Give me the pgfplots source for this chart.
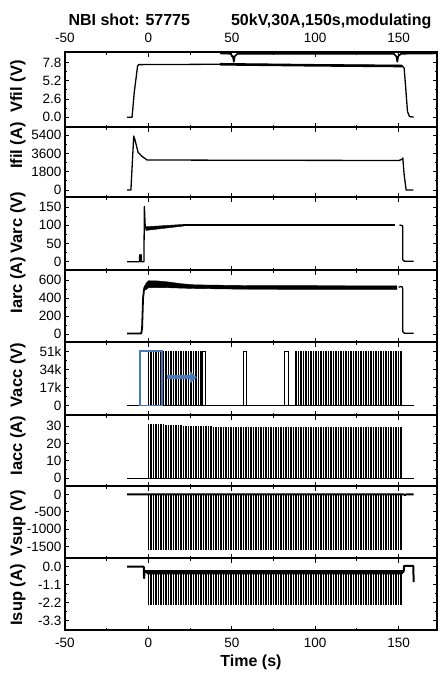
\documentclass[border=0pt]{standalone}
\usepackage{fontspec}
\setmainfont{Liberation Sans}
\usepackage{pgfplots}
\usepackage{pgfplotstable}
\pgfplotsset{compat=1.18}
\usetikzlibrary{arrows.meta}
\definecolor{markblue}{RGB}{72,122,192}

% pulse train (one row per modulation pulse)
\pgfplotstableread{
t iacc vsup isup vacc
0 31.2 -1600 -0.35 51.5
1.5 31.2 -1600 -0.35 51.5
3 31.1 -1600 -0.35 51.5
4.5 31.1 -1600 -0.35 51.5
6 31.0 -1600 -0.35 51.5
7.5 31.0 -1600 -0.35 51.5
9 30.9 -1600 -0.35 51.5
10.5 30.8 -1600 -0.35 51.5
12 30.7 -1600 -0.35 51.5
13.5 30.6 -1600 -0.35 51.5
15 30.5 -1600 -0.35 51.5
16.5 30.4 -1600 -0.35 51.5
18 30.4 -1600 -0.35 51.5
19.5 30.3 -1600 -0.35 51.5
21 30.2 -1600 -0.35 51.5
22.5 30.2 -1600 -0.35 51.5
24 30.1 -1600 -0.35 51.5
25.5 30.1 -1600 -0.35 51.5
27 30.0 -1600 -0.35 51.5
28.5 30.0 -1600 -0.35 51.5
30 29.9 -1600 -0.35 51.5
31.5 29.9 -1600 -0.35 51.5
33 29.9 -1600 -0.35 51.5
34.5 29.8 -1600 -0.35 51.5
36 29.8 -1600 -0.35 51.5
37.5 29.8 -1600 -0.35 51.5
39 29.7 -1600 -0.35 51.5
40.5 29.7 -1600 -0.35 51.5
42 29.7 -1600 -0.35 51.5
43.5 29.7 -1600 -0.35 51.5
45 29.6 -1600 -0.35 51.5
46.5 29.6 -1600 -0.35 51.5
48 29.6 -1600 -0.35 51.5
49.5 29.6 -1600 -0.35 51.5
51 29.6 -1600 -0.35 51.5
52.5 29.6 -1600 -0.35 51.5
54 29.6 -1600 -0.35 51.5
55.5 29.5 -1600 -0.35 51.5
57 29.5 -1600 -0.35 51.5
58.5 29.5 -1600 -0.35 51.5
60 29.5 -1600 -0.35 51.5
61.5 29.5 -1600 -0.35 51.5
63 29.5 -1600 -0.35 51.5
64.5 29.5 -1600 -0.35 51.5
66 29.5 -1600 -0.35 51.5
67.5 29.5 -1600 -0.35 51.5
69 29.5 -1600 -0.35 51.5
70.5 29.5 -1600 -0.35 51.5
72 29.4 -1600 -0.35 51.5
73.5 29.4 -1600 -0.35 51.5
75 29.4 -1600 -0.35 51.5
76.5 29.4 -1600 -0.35 51.5
78 29.4 -1600 -0.35 51.5
79.5 29.4 -1600 -0.35 51.5
81 29.4 -1600 -0.35 51.5
82.5 29.4 -1600 -0.35 51.5
84 29.4 -1600 -0.35 51.5
85.5 29.4 -1600 -0.35 51.5
87 29.4 -1600 -0.35 51.5
88.5 29.4 -1600 -0.35 51.5
90 29.4 -1600 -0.35 51.5
91.5 29.4 -1600 -0.35 51.5
93 29.4 -1600 -0.35 51.5
94.5 29.4 -1600 -0.35 51.5
96 29.4 -1600 -0.35 51.5
97.5 29.4 -1600 -0.35 51.5
99 29.4 -1600 -0.35 51.5
100.5 29.3 -1600 -0.35 51.5
102 29.3 -1600 -0.35 51.5
103.5 29.3 -1600 -0.35 51.5
105 29.3 -1600 -0.35 51.5
106.5 29.3 -1600 -0.35 51.5
108 29.3 -1600 -0.35 51.5
109.5 29.3 -1600 -0.35 51.5
111 29.3 -1600 -0.35 51.5
112.5 29.3 -1600 -0.35 51.5
114 29.3 -1600 -0.35 51.5
115.5 29.3 -1600 -0.35 51.5
117 29.3 -1600 -0.35 51.5
118.5 29.3 -1600 -0.35 51.5
120 29.3 -1600 -0.35 51.5
121.5 29.3 -1600 -0.35 51.5
123 29.3 -1600 -0.35 51.5
124.5 29.3 -1600 -0.35 51.5
126 29.3 -1600 -0.35 51.5
127.5 29.3 -1600 -0.35 51.5
129 29.3 -1600 -0.35 51.5
130.5 29.2 -1600 -0.35 51.5
132 29.2 -1600 -0.35 51.5
133.5 29.2 -1600 -0.35 51.5
135 29.2 -1600 -0.35 51.5
136.5 29.2 -1600 -0.35 51.5
138 29.2 -1600 -0.35 51.5
139.5 29.2 -1600 -0.35 51.5
141 29.2 -1600 -0.35 51.5
142.5 29.2 -1600 -0.35 51.5
144 29.2 -1600 -0.35 51.5
145.5 29.2 -1600 -0.35 51.5
147 29.2 -1600 -0.35 51.5
148.5 29.2 -1600 -0.35 51.5
150 29.2 -1600 -0.35 51.5
151.5 29.2 -1600 -0.35 51.5
}\pulses

\pgfplotsset{
  panel/.style={
    scale only axis, width=372pt,
    xmin=-50, xmax=173,
    xtick={-50,0,50,100,150},
    minor xtick={-25,25,75,125},
    xticklabels={},
    xtick pos=both, ytick pos=both,
    minor y tick num=1,
    major tick length=4.5pt, minor tick length=2.5pt,
    tick style={black, line width=0.9pt},
    axis line style={line width=1.1pt},
    tick label style={font=\fontsize{13.5}{14}\selectfont},
    /pgf/number format/assume math mode=true,
    anchor=north west,
  },
  ylab/.style={every axis y label/.style={at={(axis description cs:-0.127,#1)},
    rotate=90, anchor=center, font=\bfseries\fontsize{16.5}{18}\selectfont}},
  tr/.style={black, line width=1.3pt, line join=round, mark=none},
  comb/.style={black, ycomb, line width=1.3pt, mark=none},
}

\begin{document}
\begin{tikzpicture}

% Vfil
\begin{axis}[panel, name=p1, height=75pt,
  ymin=-1.4, ymax=9.3, ytick={0,2.6,5.2,7.8}, yticklabels={0.0,2.6,5.2,7.8},
  ylabel={Vfil (V)}, ylab=0.54,
  xticklabel pos=upper, xticklabels={-50,0,50,100,150},
  xticklabel style={yshift=6pt}]
\addplot[tr] coordinates {(-12.8,0)(-9.8,0)(-8.5,3.5)(-6.5,7.3)(-5.8,7.5)(43,7.55)(100,7.45)(152,7.35)(153.3,7.0)(154.3,4)(155.3,0.8)(156.5,0.1)(159,0)};
\addplot[tr, line width=2.6pt] coordinates {(43,7.55)(100,7.4)(152,7.3)};
\addplot[tr, line width=1.6pt] coordinates {(43,9.1)(49,9.05)(50.6,8.7)(51.2,7.9)(51.8,8.7)(53.4,9.05)(147,9.05)(148.6,8.7)(149.2,7.9)(149.8,8.7)(151.4,9.05)(173,9.1)};
\end{axis}

% Ifil
\begin{axis}[panel, name=p2, at={(p1.south west)}, height=70pt,
  ymin=-690, ymax=6190, ytick={0,1800,3600,5400}, yticklabels={0,1800,3600,5400},
  ylabel={Ifil (A)}, ylab=0.736]
\addplot[tr] coordinates {(-12.8,0)(-10.5,0)(-9.6,2800)(-8.8,5300)(-8.0,4900)(-6.2,3700)(-3.8,3300)(-0.8,2950)(60,2920)(150,2900)(152,3000)(152.5,3150)(153.3,1500)(154.5,0)(158.9,0)};
\end{axis}

% Varc
\begin{axis}[panel, name=p3, at={(p2.south west)}, height=73pt,
  ymin=-23, ymax=178, ytick={0,50,100,150}, yticklabels={0,50,100,150},
  ylabel={Varc (V)}, ylab=0.65]
\addplot[tr] coordinates {(-12.8,0)(-5.4,0)(-5.2,19)(-5.0,0)(-4.6,0)(-4.4,20)(-4.2,0)(-2.7,0)(-2.4,152)(-2.0,105)(-1.7,92)};
\addplot[black, fill=black] coordinates {(-1.8,96)(21,102.5)(21,98)(-1.5,86)} --cycle;
\addplot[tr, line width=1.9pt] coordinates {(21,100.5)(148,100.5)};
\addplot[tr] coordinates {(150.5,101)(152.3,99)(152.5,92)(152.5,5)(153.5,1)(159,1)};
\end{axis}

% Iarc
\begin{axis}[panel, name=p4, at={(p3.south west)}, height=72pt,
  ymin=-89, ymax=711, ytick={0,200,400,600}, yticklabels={0,200,400,600},
  ylabel={Iarc (A)}, ylab=0.79]
\addplot[tr, line width=1.8pt] coordinates {(-12.8,5)(-4.3,5)(-3.8,60)(-3.2,400)(-2.5,510)(-1.5,545)};
\addplot[black, fill=black] coordinates {(-2.5,505)(-1.5,560)(0,592)(5,590)(12,578)(20,558)(28,546)(60,538)(149,535)(149,495)(60,497)(28,505)(10,515)(0,515)(-1.5,490)} --cycle;
\addplot[tr] coordinates {(150,520)(151.5,528)(152.3,520)(152.5,480)(152.5,25)(153.5,8)(159,8)};
\end{axis}

% Vacc
\begin{axis}[panel, name=p5, at={(p4.south west)}, height=73pt,
  ymin=-8.8, ymax=60.2, ytick={0,17,34,51}, yticklabels={0,17k,34k,51k},
  ylabel={Vacc (V)}, ylab=0.548]
\addplot[tr] coordinates {(-12.8,0)(159,0)};
\addplot[comb, restrict x to domain=0:32] table[x=t, y=vacc] {\pulses};
\addplot[comb, restrict x to domain=88:152] table[x=t, y=vacc] {\pulses};
\addplot[black, line width=0.8pt] coordinates {(32.3,0)(32.3,51.5)(34.2,51.5)(34.2,0)};
\addplot[black, line width=0.8pt] coordinates {(56.9,0)(56.9,51.5)(58.9,51.5)(58.9,0)};
\addplot[black, line width=0.8pt] coordinates {(81.8,0)(81.8,51.5)(83.9,51.5)(83.9,0)};
\addplot[markblue, line width=1.5pt] coordinates {(-5,0)(-5,51.5)(8.2,51.5)(8.2,0)} --cycle;
\draw[markblue, line width=4pt, -{Triangle[length=7pt,width=12pt]}] (axis cs:11,26.8) -- (axis cs:29,26.8);
\end{axis}

% Iacc
\begin{axis}[panel, name=p6, at={(p5.south west)}, height=71pt,
  ymin=-4.4, ymax=36.3, ytick={0,10,20,30}, yticklabels={0,10,20,30},
  ylabel={Iacc (A)}, ylab=0.57]
\addplot[tr] coordinates {(-12.8,0)(159,0)};
\addplot[comb] table[x=t, y=iacc] {\pulses};
\end{axis}

% Vsup
\begin{axis}[panel, name=p7, at={(p6.south west)}, height=72pt,
  ymin=-1823, ymax=240, ytick={-1500,-1000,-500,0}, yticklabels={-1500,-1000,-500,0},
  ylabel={Vsup (V)}, ylab=0.486]
\addplot[tr, line width=1.8pt] coordinates {(-12.8,0)(153,0)(153.8,-25)(154.5,0)(159,0)};
\addplot[comb] table[x=t, y=vsup] {\pulses};
\end{axis}

% Isup
\begin{axis}[panel, name=p8, at={(p7.south west)}, height=72pt,
  ymin=-3.87, ymax=0.53, ytick={-3.3,-2.2,-1.1,0}, yticklabels={-3.3,-2.2,-1.1,0.0},
  ylabel={Isup (A)}, ylab=0.486,
  xticklabels={-50,0,50,100,150}, xticklabel style={yshift=-5pt},
  xlabel={Time (s)}, xlabel style={font=\bfseries\fontsize{16}{17}\selectfont}]
\addplot[tr, line width=2pt] coordinates {(-12.8,0)(-2.8,0)(-2.6,-0.7)(-2.3,-0.3)(153,-0.3)(153.3,0.05)(158.8,0.05)(159,-0.95)};
\addplot[black, line width=2.8pt] coordinates {(-2.3,-0.3)(153,-0.3)};
\addplot[black, only marks, mark=none, error bars/.cd, y dir=minus, y fixed=2.0,
  error mark=none, error bar style={black, line width=1.3pt}] table[x=t, y=isup] {\pulses};
\end{axis}

\node[anchor=base west, font=\bfseries\fontsize{16}{17}\selectfont] at ([yshift=27pt]p1.north west) {NBI shot: 57775};
\node[anchor=base east, font=\bfseries\fontsize{16}{17}\selectfont] at ([xshift=-2pt,yshift=27pt]p1.north east) {50kV,30A,150s,modulating};

\pgfresetboundingbox
\path[use as bounding box] ([xshift=-65pt,yshift=52pt]p1.north west) rectangle ++(440pt,-675pt);
\end{tikzpicture}
\end{document}
